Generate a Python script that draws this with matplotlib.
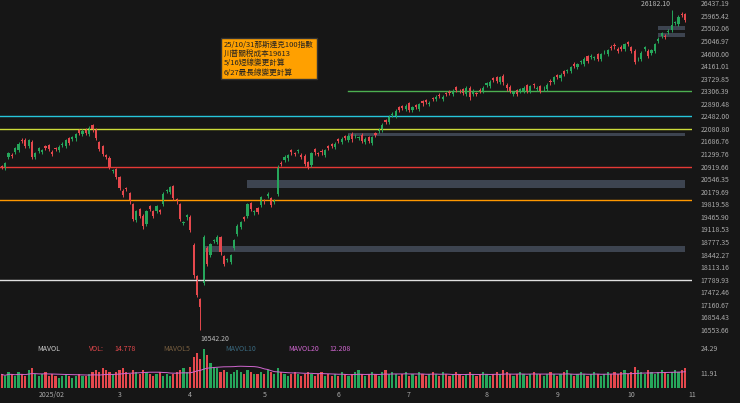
import matplotlib.pyplot as plt
import numpy as np
import pandas as pd

plt.rcParams['font.family'] = ['Noto Sans CJK TC', 'DejaVu Sans']

# daily closes, Nasdaq 100, from 2025-01-13
closes = [20900, 21000, 21300, 21250, 21450, 21600, 21700, 21550, 21700, 21200, 21300, 21450, 21400, 21500, 21450,
          21300, 21450, 21500, 21600, 21700, 21650, 21800, 21900, 21950, 22000, 21950, 22100, 22050, 21800, 21450, 21300, 21200, 20900, 20800,
          20600, 20300, 20100, 20250, 19900, 19400, 19600, 19500, 19200, 19600, 19700, 19500, 19750, 19600, 20100, 20200, 20300, 20000, 19900, 19400, 19300,
          19500, 19100, 17900, 17400, 17100, 18900, 18200, 18700, 18800, 18900, 18500, 18200, 18300, 18400, 18800, 19200, 19300, 19400, 19800, 19700, 19600,
          19600, 20000, 19900, 20100, 19800, 19900, 20900, 21000, 21200, 21250, 21350, 21300, 21400, 21200, 21000, 20900, 21300, 21350, 21300, 21350, 21400,
          21500, 21550, 21600, 21700, 21750, 21800, 21850, 21750, 21850, 21800, 21700, 21750, 21700, 21800, 21900, 22050, 22200, 22300, 22450, 22550,
          22650, 22700, 22750, 22800, 22700, 22750, 22800, 22850, 22900, 22950, 22900, 23050, 23100, 23150, 23100, 23200, 23250, 23300, 23350, 23300, 23250, 23400,
          23100, 23300, 23200, 23300, 23400, 23550, 23600, 23700, 23650, 23750, 23600, 23400, 23300, 23250, 23200, 23350, 23400, 23300, 23450, 23500, 23400,
          23300, 23400, 23500, 23600, 23750, 23800, 23850, 23900, 24000, 24100, 24150, 24200, 24300, 24400, 24350, 24500, 24450, 24400, 24550, 24650, 24700,
          24800, 24850, 24700, 24750, 24900, 24950, 24700, 24300, 24400, 24600, 24800, 24500, 24700, 24900, 25100, 25300, 25200, 25400, 25600, 25700, 25900, 26000, 25800]

volumes = [11, 10, 12, 11, 10, 12, 11, 10, 13, 14, 11, 10, 11, 12, 10,
           11, 10, 9, 10, 11, 10, 9, 10, 11, 10, 10, 11, 12, 13, 12, 14, 13, 12, 11,
           12, 13, 14, 12, 11, 13, 12, 11, 13, 12, 11, 10, 11, 12, 10, 11, 10, 11, 12, 13, 14,
           12, 15, 20, 22, 19, 24, 21, 17, 15, 14, 12, 13, 12, 11, 12, 13, 12, 11, 13, 12, 11,
           11, 12, 11, 13, 12, 11, 14, 12, 11, 10, 11, 12, 11, 10, 11, 12, 11, 10, 11, 12, 10,
           11, 10, 11, 10, 12, 11, 10, 11, 12, 13, 11, 10, 11, 12, 11, 10, 12, 13, 11, 12,
           11, 10, 11, 12, 10, 11, 10, 12, 11, 10, 11, 12, 11, 10, 12, 11, 10, 11, 12, 11, 10, 11,
           12, 11, 10, 11, 12, 11, 10, 11, 12, 11, 13, 12, 11, 10, 11, 12, 11, 10, 11, 12, 11,
           11, 10, 11, 12, 11, 10, 11, 12, 13, 11, 10, 11, 12, 11, 10, 11, 12, 11, 10, 11, 12,
           11, 12, 11, 12, 13, 11, 12, 15, 13, 12, 11, 13, 12, 11, 12, 13, 12, 11, 12, 13, 12, 13, 14]

# intraday open offsets, repeating pattern
open_gaps = [70, -50, 110, -30, 60, -80, 90]

price_ticks = [26437.19, 25965.42, 25502.06, 25046.97, 24600.00, 24161.01, 23729.85, 23306.39, 22890.48,
               22482.00, 22080.80, 21686.76, 21299.76, 20919.66, 20546.35, 20179.69, 19819.58, 19465.90,
               19118.53, 18777.35, 18442.27, 18113.16, 17789.93, 17472.46, 17160.67, 16854.43, 16553.66]

# (price, color, start index)
hlines = [(23306.39, '#4caf50', 103), (22482.00, '#26c6da', 0), (22080.80, '#cddc39', 0),
          (20919.66, '#e53935', 0), (19950, '#ff9800', 0), (17789.93, '#e0e0e0', 0)]
# (low, high, start index)
zones = [(21850, 21960, 103), (20280, 20520, 73), (18520, 18660, 60), (25440, 25580, 195), (25200, 25320, 195)]

month_labels = ['2025/02', '3', '4', '5', '6', '7', '8', '9', '10', '11']
box_text = '25/10/31那斯達克100指數\n川普關稅成本19613\n5/16短線變更計算\n6/27最長線變更計算'

bg = '#161616'
up, dn = '#26a65b', '#e5484d'
dates = pd.bdate_range('2025-01-13', periods=len(closes))
n = len(closes)
x = np.arange(n)
c = np.array(closes, float)
prev = np.r_[c[0] - 80, c[:-1]]
gap = np.array([open_gaps[i % len(open_gaps)] for i in range(n)])
o = prev + 0.3 * (c - prev) + gap
hi = np.maximum(o, c) * 1.003
lo = np.minimum(o, c) * 0.997
lo[59] = 16542.20
hi[199] = 26182.10
col = np.where(c >= o, up, dn)

fig = plt.figure(figsize=(7.4, 4.03), dpi=100, facecolor=bg)
ax = fig.add_axes([0.0, 0.165, 0.935, 0.835], facecolor=bg)
axv = fig.add_axes([0.0, 0.037, 0.935, 0.107], facecolor=bg, sharex=ax)

ax.set_yscale('log')
ax.set_ylim(16400, 26560)
ax.set_xlim(-0.5, n + 1)
for p, cl, s in hlines:
    ax.plot([s, n + 3] if s else [-1, n + 3], [p, p], color=cl, lw=1)
for l, h, s in zones:
    ax.fill_between([s, n - 1], l, h, color='#3d4450', lw=0)
ax.vlines(x, lo, hi, colors=col, lw=0.7)
ax.bar(x, np.abs(c - o) + 20, bottom=np.minimum(o, c), color=col, width=0.65)
ax.text(59, 16542.20 * 0.994, '16542.20', color='#bbbbbb', fontsize=5, va='top', ha='left')
ax.text(199, 26182.10 * 1.003, '26182.10 ', color='#bbbbbb', fontsize=5, va='bottom', ha='right')
ax.text(66, 25050, box_text, fontsize=5.5, color='#222222', va='top', linespacing=1.2,
        bbox=dict(facecolor='#ffa000', edgecolor='#333333', pad=2))

ax.yaxis.tick_right()
ax.set_yticks(price_ticks)
ax.set_yticklabels([f'{t:.2f}' for t in price_ticks])
ax.yaxis.set_minor_locator(plt.NullLocator())
ax.tick_params(axis='y', colors='#aaaaaa', labelsize=5, length=0, pad=6)
ax.tick_params(axis='x', length=0, labelbottom=False)
for sp in ax.spines.values():
    sp.set_visible(False)

axv.bar(x, volumes, color=col, width=0.65)
axv.plot(x, pd.Series(volumes).rolling(20, min_periods=1).mean(), color='#d066d0', lw=0.7)
axv.set_ylim(4, 26)
axv.yaxis.tick_right()
axv.set_yticks([24.29, 11.91])
axv.tick_params(axis='y', colors='#aaaaaa', labelsize=5, length=0, pad=6)
firsts = [i for i in range(1, n) if dates[i].month != dates[i - 1].month]
firsts.append(n + 1)
axv.set_xticks(firsts)
axv.set_xticklabels(month_labels)
axv.tick_params(axis='x', colors='#aaaaaa', labelsize=5, length=0, pad=2)
for sp in axv.spines.values():
    sp.set_visible(False)

fig.text(0.05, 0.13, 'MAVOL', color='#cccccc', fontsize=5)
fig.text(0.12, 0.13, 'VOL:', color='#e5484d', fontsize=5)
fig.text(0.155, 0.13, '14.778', color='#e5484d', fontsize=5)
fig.text(0.22, 0.13, 'MAVOL5', color='#7a6040', fontsize=5)
fig.text(0.305, 0.13, 'MAVOL10', color='#3a6a80', fontsize=5)
fig.text(0.39, 0.13, 'MAVOL20', color='#d066d0', fontsize=5)
fig.text(0.445, 0.13, '12.208', color='#d066d0', fontsize=5)

fig.savefig('out.png', facecolor=bg)
